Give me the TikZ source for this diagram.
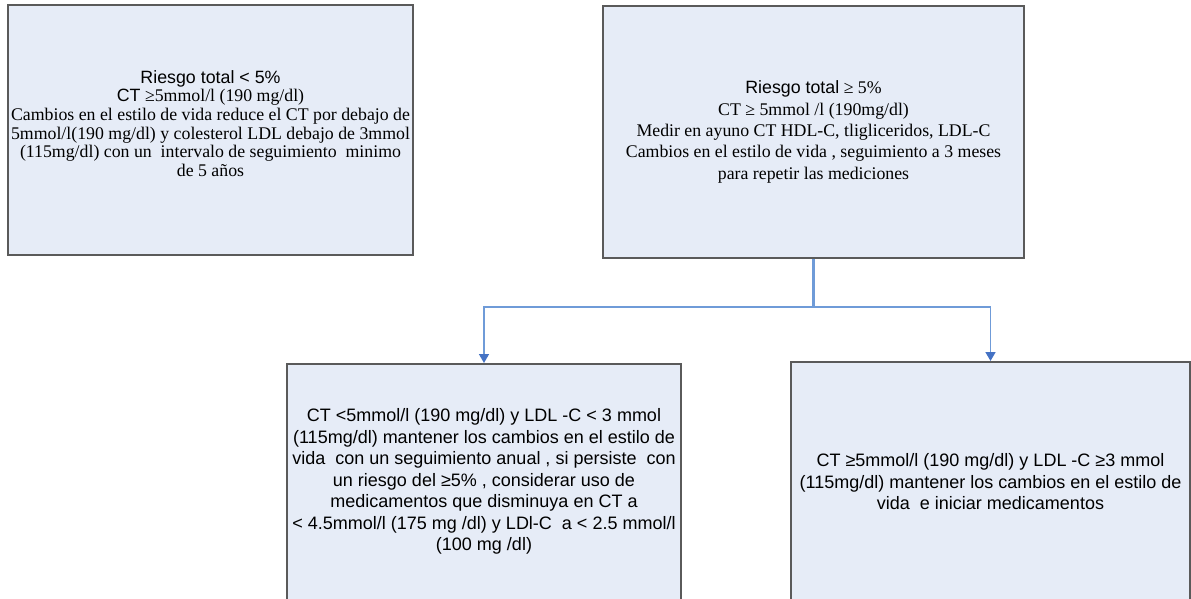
\documentclass[tikz,border=0pt]{standalone}
\usepackage{fontspec}
\setmainfont{Liberation Serif}
\newfontfamily\arial{Liberation Sans}
\usetikzlibrary{arrows.meta}
\definecolor{boxfill}{HTML}{E6ECF7}
\definecolor{boxline}{HTML}{5A5A5A}
\definecolor{connline}{HTML}{6F9BD8}
\definecolor{conntip}{HTML}{4472C4}
\tikzset{
  box/.style={draw=boxline, line width=2pt, fill=boxfill, align=center, inner sep=0pt},
  txt/.style={align=center, inner sep=0pt},
  seriftxt/.style={txt, font=\fontsize{17.8}{18.7}\selectfont},
  serifwide/.style={txt, font=\fontsize{17.8}{21.3}\selectfont},
  sansbox/.style={box, font=\arial\fontsize{18}{21.5}\selectfont},
  conn/.style={draw=connline, line width=1.6pt},
  arr/.style={conn, -{Triangle[length=9pt,width=10pt,fill=conntip,color=conntip]}},
}
\begin{document}
\begin{tikzpicture}[x=1pt,y=-1pt]
\useasboundingbox (0,0) rectangle (1191,599);
\clip (0,0) rectangle (1191,599);
\node[box, minimum width=405pt, minimum height=250pt] (b1) at (210.5,130) {};
\node[seriftxt] (t1) at ([yshift=6.5pt]b1.center)
  {{\arial Riesgo total < 5\%}\\
   {\arial CT} ≥5mmol/l (190 mg/dl)\\
   Cambios en el estilo de vida reduce el CT por debajo de\\
   5mmol/l(190 mg/dl) y colesterol LDL debajo de 3mmol\\
   (115mg/dl) con un\ \ intervalo de seguimiento\ \ minimo\\
   de 5 años};
\node[box, minimum width=421pt, minimum height=252pt] (b2) at (813.5,132) {};
\node[serifwide] (t2) at (b2.center)
  {{\arial Riesgo total} ≥ 5\%\\
   CT ≥ 5mmol /l (190mg/dl)\\
   Medir en ayuno CT HDL-C, tligliceridos, LDL-C\\
   Cambios en el estilo de vida , seguimiento a 3 meses\\
   para repetir las mediciones};
\node[sansbox, minimum width=394pt, minimum height=235.5pt] (b3) at (484,481.75)
  {CT <5mmol/l (190 mg/dl) y LDL -C < 3 mmol\\
   (115mg/dl) mantener los cambios en el estilo de\\
   vida\ \ con un seguimiento anual , si persiste\ \ con\\
   un riesgo del ≥5\% , considerar uso de\\
   medicamentos que disminuya en CT a\\
   < 4.5mmol/l (175 mg /dl) y LDl-C\ \ a < 2.5 mmol/l\\
   (100 mg /dl)};
\node[sansbox, minimum width=399pt, minimum height=240pt] (b4) at (990.5,482)
  {CT ≥5mmol/l (190 mg/dl) y LDL -C ≥3 mmol\\
   (115mg/dl) mantener los cambios en el estilo de\\
   vida\ \ e iniciar medicamentos};
\coordinate (j) at (813.5,307);
\draw[conn, line width=2.2pt] (b2.south) -- (j);
\draw[arr] (j) -| (b3.north);
\draw[arr] (j) -| (b4.north);
\end{tikzpicture}
\end{document}
